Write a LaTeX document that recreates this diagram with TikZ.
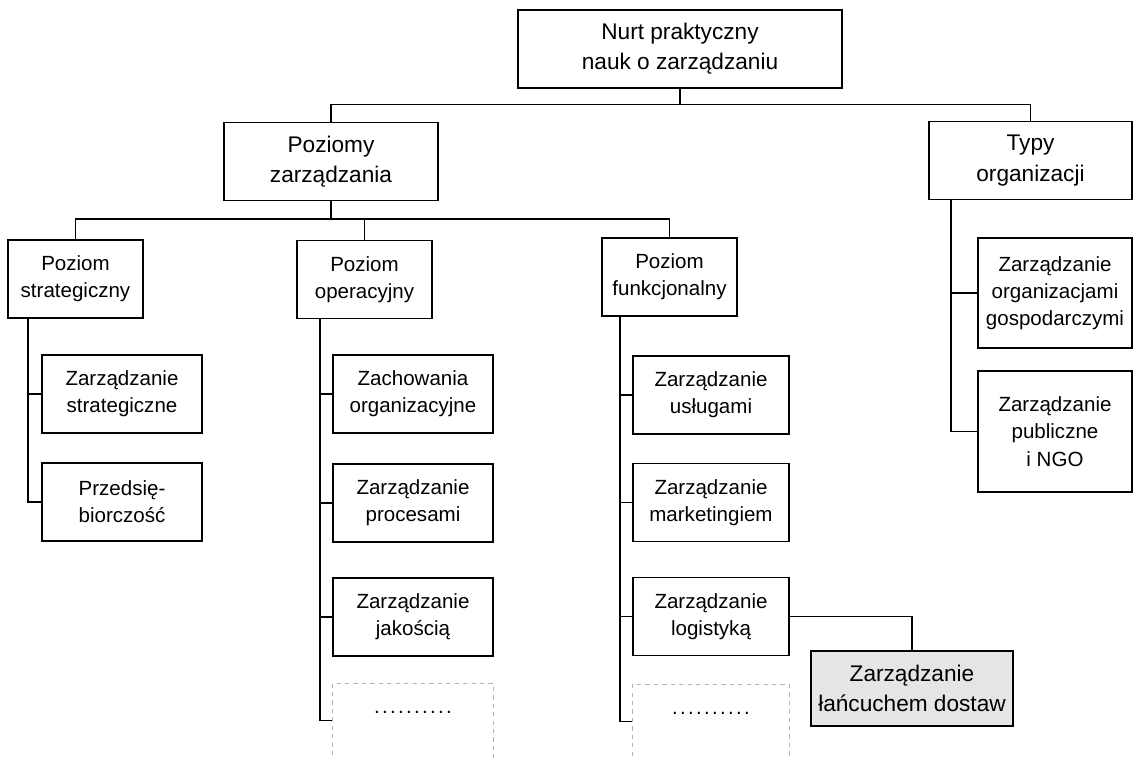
\documentclass[tikz,border=0pt]{standalone}
\usepackage{fontspec}
\setmainfont{Liberation Sans}
\usetikzlibrary{positioning}

\newcommand{\dotrow}{\hbox to 2cm{\xleaders\hbox to 0.2cm{\hss.\hss}\hfill}}

\begin{document}
\begin{tikzpicture}[x=0.025cm, y=-0.025cm, line width=1.2pt, every node/.style={align=center},
    topbox/.style={draw, rectangle, font=\fontsize{16.1}{21.5}\selectfont, minimum height=1.95cm},
    levelbox/.style={draw, rectangle, font=\fontsize{14.6}{19.4}\selectfont, minimum width=3.375cm, minimum height=1.95cm},
    leafbox/.style={draw, rectangle, font=\fontsize{14.6}{19.4}\selectfont, minimum height=1.95cm},
    dotbox/.style={draw=gray!60, dashed, line width=0.7pt, rectangle, inner sep=0pt, font=\fontsize{14.6}{19.4}\selectfont, text height=0.75cm, text depth=2.2cm}]
    \useasboundingbox (0,0) rectangle (1134,758);
    \clip (0,0) rectangle (1134,758);

    % Top of the tree
    \node[topbox, minimum width=8.1cm] (root) at (680,49) {Nurt praktyczny\\nauk o zarządzaniu};
    \node[topbox, minimum width=5.35cm] (poziomy) at (331,161.5) {Poziomy\\zarządzania};
    \node[topbox, minimum width=5.075cm] (typy) at (1030.5,160.5) {Typy\\organizacji};

    % Levels
    \node[levelbox] (strat) at (75.5,279) {Poziom\\strategiczny};
    \node[levelbox] (oper) at (364.5,279.5) {Poziom\\operacyjny};
    \node[levelbox] (funk) at (669.5,277) {Poziom\\funkcjonalny};

    % Leaves
    \node[leafbox, minimum width=4cm] (s1) at (122,394) {Zarządzanie\\strategiczne};
    \node[leafbox, minimum width=4cm] (s2) at (122,502) {Przedsię-\\biorczość};

    \node[leafbox, minimum width=4cm] (o1) at (413,394) {Zachowania\\organizacyjne};
    \node[leafbox, minimum width=4cm] (o2) at (413,503) {Zarządzanie\\procesami};
    \node[leafbox, minimum width=4cm] (o3) at (413,617) {Zarządzanie\\jakością};
    \node[dotbox, minimum width=4cm] (o4) at (413,742) {\dotrow};

    \node[leafbox, minimum width=3.9cm] (f1) at (711,395) {Zarządzanie\\usługami};
    \node[leafbox, minimum width=3.9cm] (f2) at (711,502.5) {Zarządzanie\\marketingiem};
    \node[leafbox, minimum width=3.9cm] (f3) at (711,616.5) {Zarządzanie\\logistyką};
    \node[dotbox, minimum width=3.9cm] (f4) at (711,743) {\dotrow};

    \node[topbox, fill=black!10, minimum width=5.05cm, minimum height=1.875cm] (lancuch) at (912,688.5) {Zarządzanie\\łańcuchem dostaw};

    \node[leafbox, minimum width=3.85cm, minimum height=2.75cm] (t1) at (1055,293) {Zarządzanie\\organizacjami\\gospodarczymi};
    \node[leafbox, minimum width=3.85cm, minimum height=3.025cm] (t2) at (1055,431.5) {Zarządzanie\\publiczne\\i NGO};

    % Tree lines
    \draw (poziomy.north) -- ++(0,-17) coordinate (bus1) -| (typy.north);
    \draw (root.south) -- (root.south |- bus1);
    \draw (strat.north) -- ++(0,-20) coordinate (bus2) -| (funk.north);
    \draw (poziomy.south) -- (poziomy.south |- bus2);
    \draw (oper.north) -- (oper.north |- bus2);

    \foreach \c in {s1,s2}
        \draw ([xshift=0.525cm]strat.south west) |- (\c.west);
    \foreach \c in {o1,o2,o3}
        \draw ([xshift=0.6cm]oper.south west) |- (\c.west);
    \draw ([xshift=0.6cm]oper.south west) |- ([yshift=-0.95cm]o4.north west);
    \foreach \c in {f1,f2,f3}
        \draw ([xshift=0.475cm]funk.south west) |- (\c.west);
    \draw ([xshift=0.475cm]funk.south west) |- ([yshift=-0.95cm]f4.north west);
    \foreach \c in {t1,t2}
        \draw ([xshift=0.575cm]typy.south west) |- (\c.west);

    \draw (f3.east) -| (lancuch.north);
\end{tikzpicture}
\end{document}
